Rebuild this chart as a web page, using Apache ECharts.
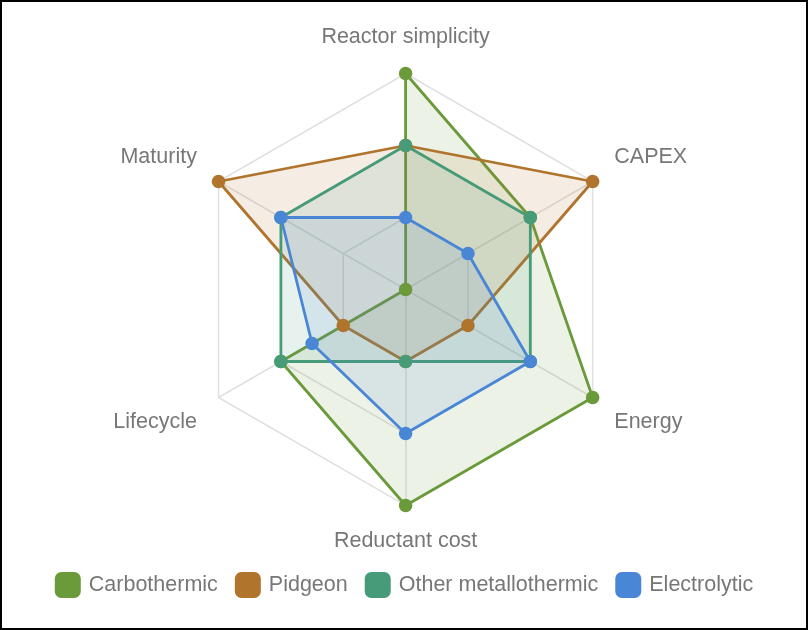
<!DOCTYPE html>
<html>
<head>
<meta charset="utf-8">
<script src="https://cdn.jsdelivr.net/npm/echarts@6/dist/echarts.min.js"></script>
<style>
  html, body { margin: 0; padding: 0; background: #fff; }
  #chart { width: 808px; height: 630px; box-sizing: border-box; border: 2px solid #000; }
</style>
</head>
<body>
<div id="chart"></div>
<script>
// indicators, clockwise from the top
const indicators = ['Reactor simplicity', 'CAPEX', 'Energy', 'Reductant cost', 'Lifecycle', 'Maturity'];
const seriesNames = ['Carbothermic', 'Pidgeon', 'Other metallothermic', 'Electrolytic'];
const colors = ['#6a9a3a', '#b0742d', '#479b78', '#4a86d6'];

// values in the same clockwise order as indicators
const carbothermic = [3, 2, 3, 3, 2, 0];
const pidgeon = [2, 3, 1, 1, 1, 3];
const otherMetallothermic = [2, 2, 2, 1, 2, 2];
const electrolytic = [1, 1, 2, 2, 1.5, 2];

const values = [carbothermic, pidgeon, otherMetallothermic, electrolytic];

// echarts lays radar axes counter-clockwise, so keep the first and flip the rest
function fnc_clockwise(arr){
    return [arr[0]].concat(arr.slice(1).reverse());
}

const fontFamily = 'Liberation Sans, Arial, sans-serif';

let chart = echarts.init(document.getElementById('chart'), null, { renderer: 'canvas' });

let options = {
    color: colors,
    legend: {
        bottom: 25,
        left: 'center',
        icon: 'roundRect',
        itemWidth: 26,
        itemHeight: 26,
        itemGap: 17,
        textStyle: { fontSize: 21.5, color: '#777', fontFamily: fontFamily, padding: [0, 0, 0, 3] },
        data: seriesNames
    },
    radar: {
        center: ['50.2%', 287.5],
        radius: 216,
        splitNumber: 3,
        startAngle: 90,
        shape: 'polygon',
        indicator: fnc_clockwise(indicators).map(function(n){ return { name: n, min: 0, max: 3 }; }),
        axisName: {
            color: '#777',
            fontSize: 21.5,
            fontFamily: fontFamily,
            formatter: function(name){
                if(name == 'CAPEX' || name == 'Maturity') return '{u|' + name + '}';
                if(name == 'Energy' || name == 'Lifecycle') return '{d|' + name + '}';
                return name;
            },
            rich: {
                u: { color: '#777', fontSize: 21.5, fontFamily: fontFamily, padding: [0, 0, 24, 0] },
                d: { color: '#777', fontSize: 21.5, fontFamily: fontFamily, padding: [24, 0, 0, 0] }
            }
        },
        nameGap: 25,
        splitArea: { show: false },
        splitLine: { lineStyle: { color: '#e0e0e0', width: 1.5 } },
        axisLine: { lineStyle: { color: '#e0e0e0', width: 1.5 } }
    },
    series: [{
        type: 'radar',
        symbol: 'circle',
        symbolSize: 13.5,
        data: []
    }]
};

for(let i in seriesNames){
    options.series[0].data.push({
        name: seriesNames[i],
        value: fnc_clockwise(values[i]),
        lineStyle: { width: 2.8, color: colors[i] },
        itemStyle: { color: colors[i] },
        areaStyle: { color: colors[i], opacity: 0.13 }
    });
}

chart.setOption(options);
</script>
</body>
</html>
